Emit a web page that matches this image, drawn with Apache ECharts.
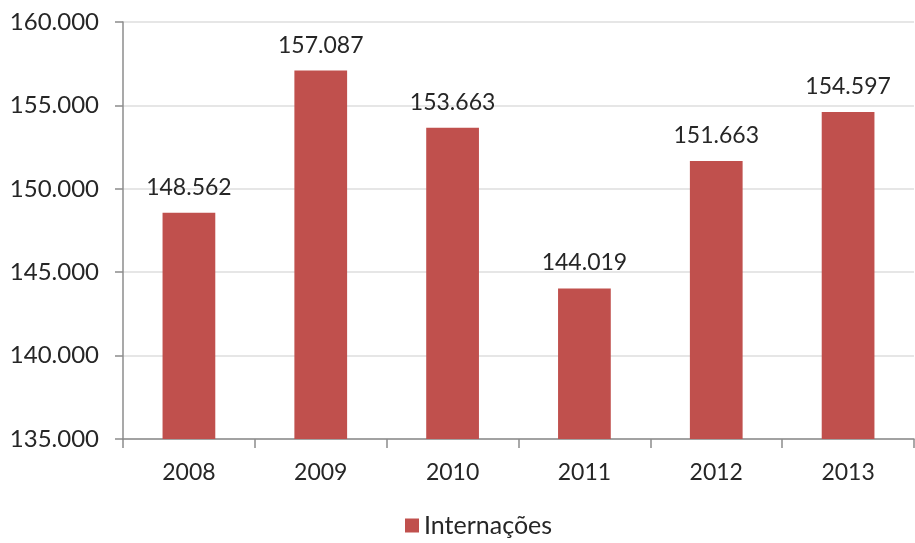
<!DOCTYPE html>
<html><head><meta charset="utf-8">
<script src="https://cdn.jsdelivr.net/npm/echarts@6/dist/echarts.min.js"></script>
<style>html,body{margin:0;padding:0;background:#fff}#c{width:915px;height:543px}</style>
</head><body><div id="c"></div>
<script>
const categories = ['2008','2009','2010','2011','2012','2013'];
const values = [148562, 157087, 153663, 144019, 151663, 154597];
const seriesName = 'Internações';
const fmt = v => String(v).replace(/\B(?=(\d{3})+(?!\d))/g, '.');
const FONT = 'Lato';
const chart = echarts.init(document.getElementById('c'));
chart.setOption({
  animation: false,
  grid: {left: 123, right: 1, top: 22, bottom: 104},
  legend: {
    bottom: 0, left: 400, itemWidth: 14, itemHeight: 14, icon: 'rect', itemGap: 6,
    textStyle: {fontFamily: FONT, fontSize: 25, color: '#262626'},
    data: [seriesName]
  },
  xAxis: {
    type: 'category', data: categories,
    axisLine: {lineStyle: {color: '#8c8c8c', width: 1.5}},
    axisTick: {show: true, length: 9, lineStyle: {color: '#8c8c8c', width: 1.5}},
    axisLabel: {fontFamily: FONT, fontSize: 23, color: '#262626', margin: 22}
  },
  yAxis: {
    type: 'value', min: 135000, max: 160000, interval: 5000,
    axisLine: {show: true, lineStyle: {color: '#8c8c8c', width: 1.5}},
    axisTick: {show: true, length: 8, lineStyle: {color: '#8c8c8c', width: 1.5}},
    splitLine: {lineStyle: {color: '#dedede', width: 1.5}},
    axisLabel: {fontFamily: FONT, fontSize: 24, color: '#262626', margin: 24, formatter: fmt}
  },
  series: [{
    name: seriesName, type: 'bar', data: values, barWidth: '40%',
    itemStyle: {color: '#C0504D'},
    label: {show: true, position: 'top', distance: 14, fontFamily: FONT, fontSize: 23, color: '#262626', formatter: p => fmt(p.value)}
  }]
});
</script></body></html>
